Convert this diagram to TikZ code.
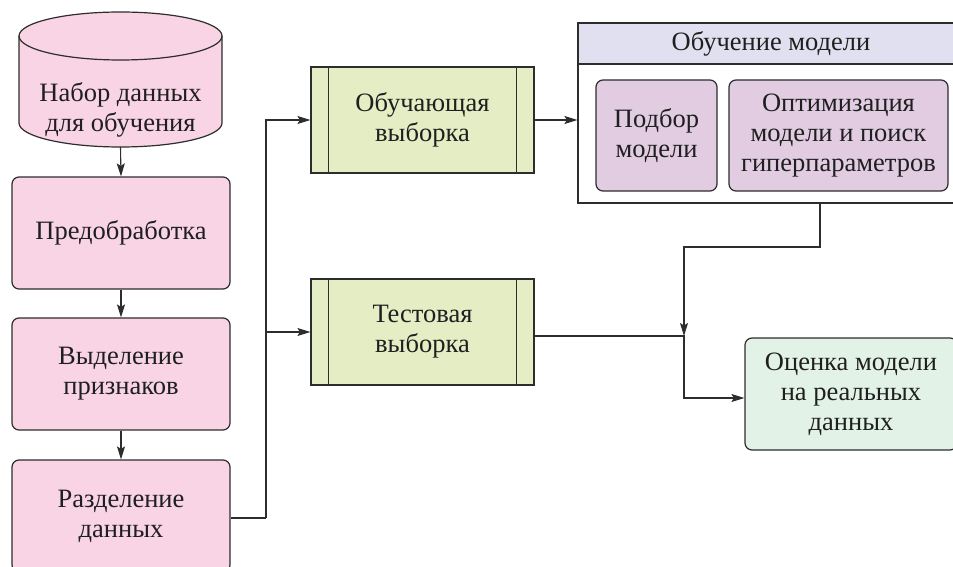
\documentclass[tikz,border=0pt]{standalone}
\usepackage{fontspec}
\setmainfont{LiberationSerif}[Extension=.ttf,UprightFont=*-Regular]
\usetikzlibrary{arrows.meta,calc}
\definecolor{pinkf}{RGB}{248,212,228}
\definecolor{greenf}{RGB}{229,237,196}
\definecolor{lavf}{RGB}{225,224,240}
\definecolor{purf}{RGB}{225,204,226}
\definecolor{mintf}{RGB}{226,242,230}
\definecolor{linec}{RGB}{45,45,45}
\begin{document}
\begin{tikzpicture}[x=1pt,y=-1pt,
  txt/.style={align=center,font=\fontsize{26.5}{30}\selectfont,text=black!88},
  pbox/.style={txt,draw=linec,line width=1.2pt,rounded corners=7pt,fill=pinkf,inner sep=0pt,minimum width=218pt,minimum height=112pt},
  sbox/.style={txt,draw=linec,line width=1.2pt,fill=greenf,inner sep=0pt,minimum width=223pt,minimum height=106pt},
  mbox/.style={txt,draw=linec,line width=1.2pt,rounded corners=7pt,fill=purf,inner sep=0pt,minimum height=111pt},
  conn/.style={draw=linec,line width=1.1pt,-{Stealth[length=13pt,width=8pt,inset=2.5pt]}},
  plain/.style={draw=linec,line width=1.1pt}]
\useasboundingbox (0,0) rectangle (953,567);
\clip (0,0) rectangle (953,567);
% cylinder
\fill[pinkf] (19,36) -- (19,123) arc[start angle=180,end angle=360,x radius=101.5pt,y radius=24pt] -- (222,36) -- cycle;
\fill[pinkf] (120.5,36) ellipse[x radius=101.5pt,y radius=24pt];
\draw[linec,line width=1.2pt] (19,36) -- (19,123) arc[start angle=180,end angle=360,x radius=101.5pt,y radius=24pt] -- (222,36);
\draw[linec,line width=1.2pt] (120.5,36) ellipse[x radius=101.5pt,y radius=24pt];
\node[txt] (cyl) at (120.5,110) {Набор данных\\для обучения};
\coordinate (cylb) at (120.5,147);
% left column
\node[pbox] (pre) at (121,233) {Предобработка};
\node[pbox] (feat) at (121,374) {Выделение\\признаков};
\node[pbox] (split) at (121,516) {Разделение\\данных};
% samples
\node[sbox] (train) at (422.5,120) {Обучающая\\выборка};
\node[sbox] (test) at (422.5,332) {Тестовая\\выборка};
\foreach \b in {train,test}{
  \draw[linec,line width=1.2pt] ([xshift=18pt]\b.north west) -- ([xshift=18pt]\b.south west);
  \draw[linec,line width=1.2pt] ([xshift=-18pt]\b.north east) -- ([xshift=-18pt]\b.south east);
}
% container
\node[draw=linec,line width=1.2pt,fill=white,minimum width=386pt,minimum height=180pt,inner sep=0pt] (cont) at (771,113) {};
\node[txt,draw=linec,line width=1.2pt,fill=lavf,minimum width=386pt,minimum height=41pt,inner sep=0pt,anchor=north] (head) at (cont.north) {Обучение модели};
\node[mbox,minimum width=121pt] (sel) at (656.5,135.5) {Подбор\\модели};
\node[mbox,minimum width=219pt] (opt) at (838.5,135.5) {Оптимизация\\модели и поиск\\гиперпараметров};
% evaluation
\node[txt,draw=linec,line width=1.2pt,rounded corners=7pt,fill=mintf,inner sep=0pt,minimum width=212pt,minimum height=112pt] (eval) at (851,394) {Оценка модели\\на реальных\\данных};
% connectors
\draw[conn] (cylb) -- (pre.north);
\draw[conn] (pre.south) -- (feat.north);
\draw[conn] (feat.south) -- (split.north);
\coordinate (bus) at (266,518);
\draw[plain] (split.east |- bus) -- (bus);
\draw[conn] (bus) |- (train.west);
\draw[conn] (bus) |- (test.west);
\draw[conn] (train.east) -- (cont.west |- train.east);
\coordinate (cb) at (820,203);
\coordinate (j) at (684,336);
\draw[conn] (cb) -- (820,247) -| (j);
\draw[conn] (test.east |- j) -- (j) |- ([yshift=-4pt]eval.west);
\end{tikzpicture}
\end{document}
